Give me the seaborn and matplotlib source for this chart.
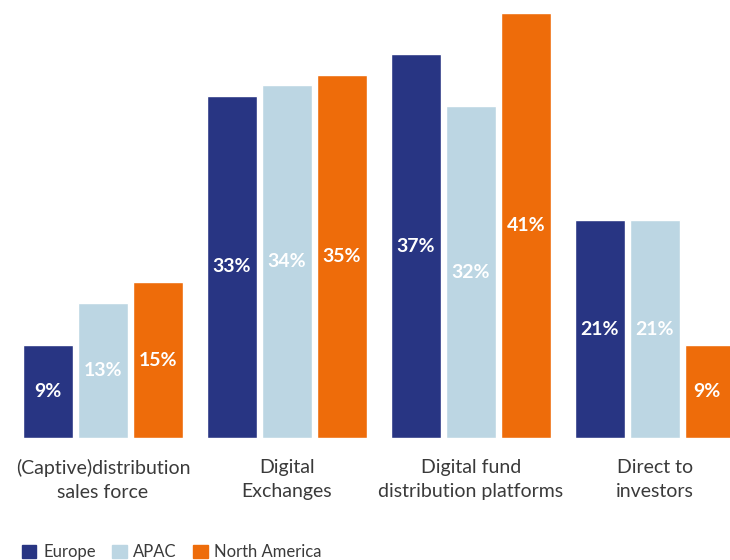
import matplotlib
matplotlib.use("Agg")
import matplotlib.pyplot as plt
import seaborn as sns
import pandas as pd

categories = ["(Captive)distribution\nsales force", "Digital\nExchanges",
              "Digital fund\ndistribution platforms", "Direct to\ninvestors"]
regions = ["Europe", "APAC", "North America"]
europe = [9, 33, 37, 21]
apac = [13, 34, 32, 21]
north_america = [15, 35, 41, 9]
colors = ["#283583", "#bcd6e3", "#ee6c0a"]

rows = []
for reg, vals in zip(regions, [europe, apac, north_america]):
    for cat, v in zip(categories, vals):
        rows.append({"category": cat, "region": reg, "value": v})
df = pd.DataFrame(rows)

sns.set_theme(style="white")
plt.rcParams["font.family"] = ["Lato", "DejaVu Sans"]

fig = plt.figure(figsize=(7.3, 5.6), dpi=100)
ax = fig.add_axes([0, 122 / 560, 1, 438 / 560])

sns.barplot(data=df, x="category", y="value", hue="region", order=categories,
            hue_order=regions, palette=colors, width=0.897, gap=0.09,
            saturation=1, legend=False, ax=ax)

ax.set_xlim(-0.56, 3.41)
ax.set_ylim(0, 42.24)
for s in ax.spines.values():
    s.set_visible(False)
ax.set_yticks([])
ax.set_xlabel("")
ax.set_ylabel("")
ax.tick_params(axis="x", length=0, pad=15, labelsize=14, labelcolor="#3a3a3a")
for lbl in ax.get_xticklabels():
    lbl.set_linespacing(1.5)

for container in ax.containers:
    labels = [f"{int(round(b.get_height()))}%" for b in container]
    ax.bar_label(container, labels=labels, label_type="center", color="white",
                 fontsize=14, fontweight="bold")

handles = [plt.Rectangle((0, 0), 1, 1, color=c) for c in colors]
fig.legend(handles, regions, loc="lower left", bbox_to_anchor=(0.01, -0.027),
           ncol=3, frameon=False, handlelength=0.85, handleheight=0.85,
           handletextpad=0.4, columnspacing=1.0, fontsize=12,
           labelcolor="#3a3a3a")

fig.savefig("out.png", dpi=100)
